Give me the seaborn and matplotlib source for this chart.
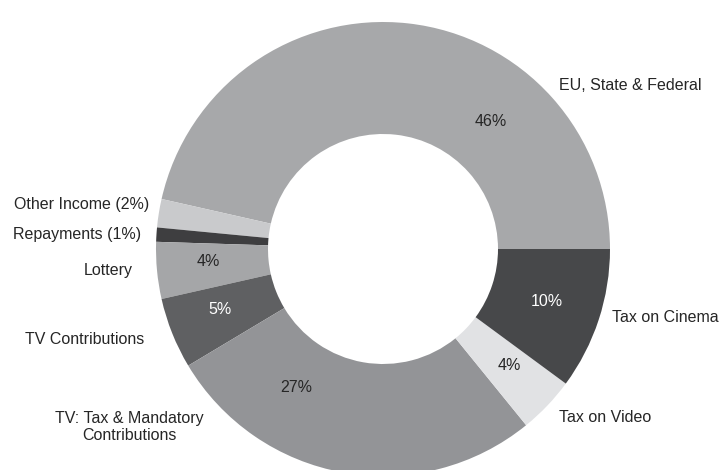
import matplotlib
matplotlib.use("Agg")
import matplotlib.pyplot as plt
import seaborn as sns

# Funding sources (share of total, %)
categories = ["EU, State & Federal", "Other Income", "Repayments", "Lottery",
              "TV Contributions", "TV: Tax & Mandatory\nContributions",
              "Tax on Video", "Tax on Cinema"]
shares = [46, 2, 1, 4, 5, 27, 4, 10]

slice_colors = ["#a7a8aa", "#c9cacc", "#3e3e40", "#a5a6a8",
                "#5f6062", "#939497", "#e1e2e4", "#47484a"]

sns.set_theme(style="white")
plt.rcParams["font.family"] = ["Liberation Sans", "DejaVu Sans"]

W, H = 720, 470
fig = plt.figure(figsize=(W / 100, H / 100), dpi=100)
ax = fig.add_axes([0, 0, 1, 1])
ax.set_xlim(0, W)
ax.set_ylim(0, H)
ax.set_aspect("equal")
ax.axis("off")

cx, cy = 383, H - 249
outer_r, ring_w = 227, 112

wedges, _ = ax.pie(shares, colors=slice_colors, startangle=0, counterclock=True,
                   center=(cx, cy), radius=outer_r,
                   wedgeprops=dict(width=ring_w, linewidth=0))
ax.set_xlim(0, W)
ax.set_ylim(0, H)

dark_text = "#262626"
fs = 11.5

# value labels inside the ring (None = shown in the outer label instead)
value_pos = [(491, 121), None, None, (208, 262), (220, 309), (296, 388), (509, 366), (547, 302)]
value_col = [dark_text, None, None, dark_text, "white", dark_text, dark_text, "white"]

for v, pos, col in zip(shares, value_pos, value_col):
    if pos is None:
        continue
    ax.text(pos[0], H - pos[1], f"{v}%", ha="center", va="center",
            fontsize=fs, color=col)

# outer category labels
outer = [
    (categories[0], 630, 85, "center"),
    (f"{categories[1]} ({shares[1]}%)", 149, 204, "right"),
    (f"{categories[2]} ({shares[2]}%)", 141, 234, "right"),
    (categories[3], 133, 270, "right"),
    (categories[4], 144, 339, "right"),
    (categories[5], 129, 427, "center"),
    (categories[6], 605, 417, "center"),
    (categories[7], 612, 318, "left"),
]
for text, x, y, ha in outer:
    ax.text(x, H - y, text, ha=ha, va="center", fontsize=fs,
            color=dark_text, multialignment="center", linespacing=1.2)

fig.savefig("out.png", dpi=100, facecolor="white")
